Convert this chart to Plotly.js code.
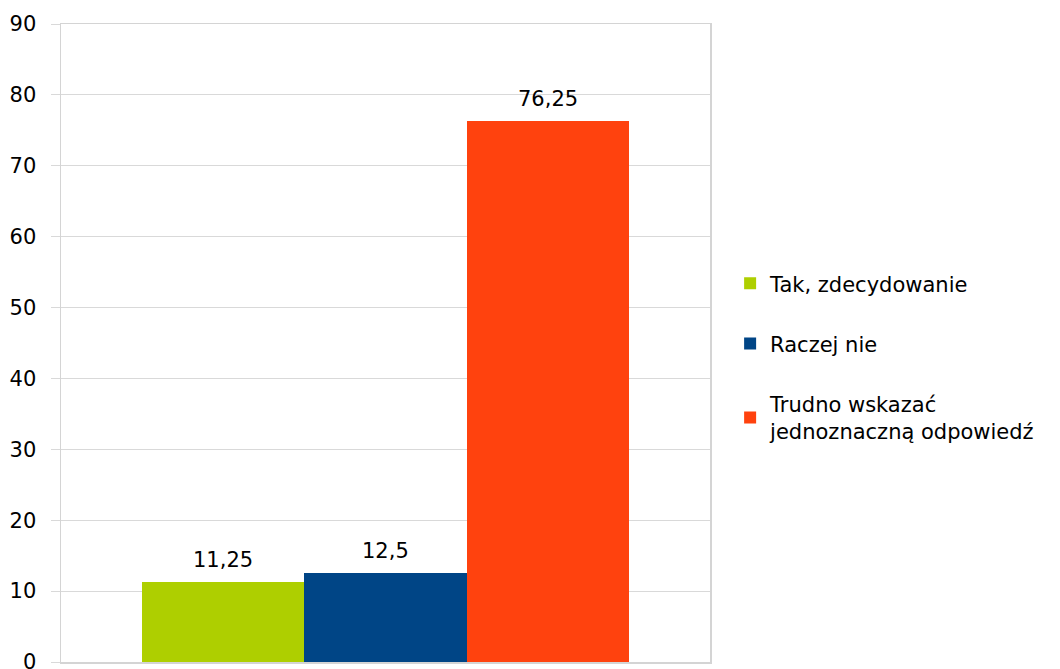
<!DOCTYPE html>
<html>
<head>
<meta charset="utf-8">
<script src="https://cdn.plot.ly/plotly-3.0.1.min.js"></script>
<style>html,body{margin:0;padding:0;background:#fff;}#chart{width:1060px;height:669px;}</style>
</head>
<body>
<div id="chart"></div>
<script>
const categories = ["Tak, zdecydowanie", "Raczej nie", "Trudno wskazać jednoznaczną odpowiedź"];
const legendNames = ["Tak, zdecydowanie", "Raczej nie", "Trudno wskazać<br>jednoznaczną odpowiedź"];
const values = [11.25, 12.5, 76.25];
const valueLabels = ["11,25", "12,5", "76,25"];
const colors = ["#aecf00", "#004586", "#ff420e"];
const yTicks = [0, 10, 20, 30, 40, 50, 60, 70, 80, 90];

const font = {family: "DejaVu Sans, sans-serif", size: 21, color: "#000"};

const traces = categories.map((c, i) => ({
  type: "bar",
  name: legendNames[i],
  x: [c],
  y: [values[i]],
  marker: {color: colors[i], line: {width: 0}},
  legendgroup: "g" + i,
  hoverinfo: "skip"
}));

const annotations = categories.map((c, i) => ({
  x: c, y: values[i], xref: "x", yref: "y",
  text: valueLabels[i], showarrow: false,
  yanchor: "bottom", yshift: 8, font: font
}));

const layout = {
  width: 1060, height: 669,
  margin: {l: 61, r: 350, t: 24, b: 7},
  paper_bgcolor: "#fff", plot_bgcolor: "#fff",
  separators: ", ",
  font: font,
  barmode: "stack",
  bargap: 0,
  showlegend: true,
  annotations: annotations,
  legend: {
    x: 1.031, xanchor: "left", y: 0.477, yanchor: "middle",
    traceorder: "grouped", tracegroupgap: 30,
    font: font, itemwidth: 30, bgcolor: "rgba(0,0,0,0)"
  },
  xaxis: {
    type: "category", categoryorder: "array", categoryarray: categories,
    showticklabels: false, ticks: "",
    showgrid: false, zeroline: false,
    showline: true, linecolor: "#d4d4d4", linewidth: 1.5, mirror: true,
    range: [-1, 3]
  },
  yaxis: {
    range: [0, 90], tickvals: yTicks, ticktext: yTicks.map(String),
    showgrid: true, gridcolor: "#d9d9d9", gridwidth: 1,
    zeroline: false,
    showline: true, linecolor: "#d4d4d4", linewidth: 1.5, mirror: true,
    ticks: "outside", ticklen: 9, tickcolor: "#d9d9d9",
    ticklabelstandoff: 10, ticklabeloverflow: "allow",
    tickfont: font
  }
};

Plotly.newPlot("chart", traces, layout, {displayModeBar: false, staticPlot: true});
</script>
</body>
</html>
